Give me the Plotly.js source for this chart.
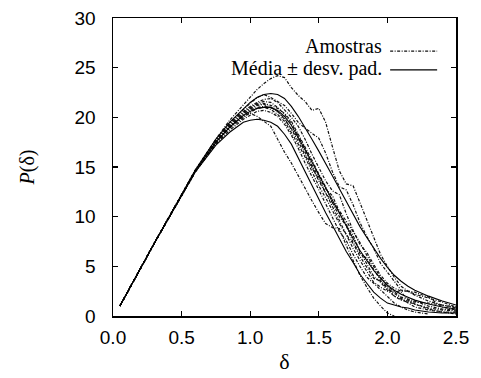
<!DOCTYPE html>
<html>
<head>
<meta charset="utf-8">
<script src="https://cdn.plot.ly/plotly-3.0.1.min.js"></script>
<style>html,body{margin:0;padding:0;background:#fff;}#chart{width:481px;height:378px;}</style>
</head>
<body>
<div id="chart"></div>
<script>
// common delta grid
const delta = [0.05,0.3,0.6,0.75,0.85,0.95,1.0,1.05,1.1,1.15,1.2,1.25,1.3,1.35,1.4,1.45,1.5,1.55,1.6,1.65,1.7,1.75,1.8,1.85,1.9,1.95,2.0,2.05,2.1,2.15,2.2,2.3,2.4,2.5];

// individual samples ("Amostras")
const s1  = [1.0,7.3,14.7,17.8,19.7,21.3,22.0,22.8,23.4,23.9,24.2,24.0,23.0,22.2,21.6,20.7,20.9,19.5,17.0,14.6,13.3,13.1,11.4,9.6,8.0,6.2,5.0,3.9,3.0,2.5,2.1,1.5,1.1,0.8];
const s2  = [1.0,7.3,14.6,17.6,19.3,20.8,21.4,22.0,22.3,22.0,21.6,21.2,20.4,19.5,18.9,18.4,17.9,16.4,14.5,13.0,12.7,11.2,9.4,8.0,6.8,5.3,4.4,3.4,2.6,2.5,2.4,1.9,0.9,0.6];
const s3  = [1.0,7.3,14.6,17.4,19.1,20.1,20.4,20.1,19.6,19.1,17.8,16.5,15.4,14.1,12.9,11.6,10.4,9.3,8.9,8.8,7.1,5.6,4.1,2.9,1.8,1.0,0.3,0.0,null,null,null,null,null,null];
const s4  = [1.0,7.3,14.6,17.5,19.0,20.3,20.8,21.2,21.3,21.0,20.6,19.9,18.8,17.6,16.2,14.9,13.8,12.4,11.0,9.6,8.3,6.8,5.6,4.5,3.4,2.9,2.5,2.5,2.4,1.6,1.2,0.8,0.6,0.5];
const s5  = [1.0,7.3,14.6,17.6,19.2,20.5,21.0,21.4,21.6,21.5,21.0,20.3,19.4,18.1,16.9,15.2,14.0,12.8,12.1,10.5,9.2,8.1,6.5,5.3,4.0,3.4,2.6,2.0,1.6,1.4,1.2,0.7,0.4,0.2];
const s6  = [1.0,7.3,14.5,17.3,18.7,19.8,20.2,20.6,20.7,20.5,20.1,19.3,18.2,16.9,15.4,14.1,12.7,11.3,9.9,8.5,7.6,6.2,5.0,3.9,3.3,2.6,1.9,1.3,0.9,0.6,0.4,0.2,null,null];
const s7  = [1.0,7.3,14.7,17.7,19.4,20.6,21.1,21.5,21.8,21.9,21.5,20.8,20.0,19.1,17.8,16.3,15.0,13.6,12.6,12.2,10.3,8.6,7.2,6.4,5.2,4.1,3.3,2.8,2.5,2.5,2.2,1.8,1.4,0.9];
const s8  = [1.0,7.3,14.5,17.4,18.9,20.0,20.5,20.9,21.0,20.8,20.3,19.6,18.5,17.3,16.0,14.5,13.1,11.9,10.6,9.3,8.2,7.3,6.0,4.9,3.8,3.5,2.9,2.0,1.7,1.5,1.4,1.3,1.1,0.9];
const s9  = [1.0,7.3,14.6,17.5,19.1,20.4,20.9,21.3,21.4,21.2,20.9,20.4,19.6,18.3,17.1,15.7,14.3,13.0,11.4,10.0,9.1,7.4,6.3,5.8,4.7,3.6,2.7,2.3,1.8,1.3,0.9,0.6,0.4,0.4];
const s10 = [1.0,7.3,14.6,17.5,19.0,20.2,20.7,21.0,21.1,21.0,20.6,19.8,18.9,17.9,16.5,15.0,13.6,12.4,11.4,10.6,9.6,8.5,7.4,6.1,5.0,3.9,3.0,2.4,1.9,1.7,1.5,1.0,0.7,0.6];

// mean and mean +/- standard deviation
const meanP  = [1.0,7.3,14.6,17.5,19.0,20.2,20.6,20.9,21.0,21.0,20.7,20.1,19.2,18.0,16.8,15.5,14.2,12.9,11.6,10.3,9.0,7.8,6.6,5.6,4.6,3.8,3.1,2.6,2.2,1.9,1.6,1.2,0.9,0.7];
const upperP = [1.0,7.3,14.7,17.8,19.5,20.9,21.5,22.0,22.3,22.4,22.3,21.9,21.1,20.1,19.0,17.8,16.6,15.4,14.1,12.8,11.5,10.2,9.0,7.9,6.8,5.8,4.9,4.1,3.5,3.0,2.6,2.0,1.5,1.1];
const lowerP = [1.0,7.3,14.5,17.2,18.5,19.5,19.7,19.8,19.7,19.5,19.1,18.3,17.3,15.9,14.6,13.2,11.8,10.4,9.1,7.8,6.5,5.4,4.2,3.3,2.4,1.8,1.3,1.1,0.9,0.8,0.6,0.4,0.3,0.3];

const xTicks = [0,0.5,1.0,1.5,2.0,2.5];
const yTicks = [0,5,10,15,20,25,30];
const legendLabels = ["Amostras","Média ± desv. pad."];

const samples = [s1,s2,s3,s4,s5,s6,s7,s8,s9,s10];
const traces = [];
samples.forEach(function(s){
  traces.push({x: delta, y: s, mode:'lines', type:'scatter', showlegend:false,
    line:{color:'#111', width:1.2, dash:'3px,1.5px,1px,1.5px'}, hoverinfo:'skip'});
});
[meanP, upperP, lowerP].forEach(function(s){
  traces.push({x: delta, y: s, mode:'lines', type:'scatter', showlegend:false,
    line:{color:'#000', width:1.1}, hoverinfo:'skip'});
});

const serif = 'Liberation Serif, Times New Roman, serif';
const sans = 'Liberation Sans, Arial, sans-serif';

const layout = {
  width:481, height:378,
  margin:{l:113, r:25, t:18, b:62},
  paper_bgcolor:'#fff', plot_bgcolor:'#fff',
  showlegend:false,
  xaxis:{range:[0,2.5], tickvals:xTicks, ticktext:xTicks.map(v=>v.toFixed(1)),
    ticks:'inside', ticklen:5, tickwidth:1.2, tickcolor:'#000', mirror:'ticks',
    showline:true, linecolor:'#000', linewidth:1.5, showgrid:false, zeroline:false,
    tickfont:{family:sans, size:19, color:'#000'}, ticklabelstandoff:4,
    title:{text:'δ', font:{family:serif, size:22, color:'#000'}, standoff:6}, automargin:false},
  yaxis:{range:[0,30], tickvals:yTicks,
    ticks:'inside', ticklen:5, tickwidth:1.2, tickcolor:'#000', mirror:'ticks',
    showline:true, linecolor:'#000', linewidth:1.5, showgrid:false, zeroline:false,
    tickfont:{family:sans, size:19, color:'#000'}, ticklabelstandoff:12,
    title:{text:'<i>P</i>(δ)', font:{family:serif, size:20, color:'#000'}, standoff:34}, automargin:false},
  annotations:[
    {xref:'paper', yref:'paper', x:0.787, y:0.905, xanchor:'right', yanchor:'middle', borderpad:0,
     text:legendLabels[0], showarrow:false, font:{family:serif, size:20, color:'#000'}},
    {xref:'paper', yref:'paper', x:0.787, y:0.829, xanchor:'right', yanchor:'middle', borderpad:0,
     text:legendLabels[1], showarrow:false, font:{family:serif, size:20, color:'#000'}}
  ],
  shapes:[
    {type:'line', xref:'paper', yref:'paper', x0:0.808, x1:0.945, y0:0.889, y1:0.889,
     line:{color:'#111', width:1.2, dash:'3px,1.5px,1px,1.5px'}},
    {type:'line', xref:'paper', yref:'paper', x0:0.808, x1:0.945, y0:0.826, y1:0.826,
     line:{color:'#000', width:1.1}}
  ]
};

Plotly.newPlot('chart', traces, layout, {staticPlot:true, displayModeBar:false});
</script>
</body>
</html>
